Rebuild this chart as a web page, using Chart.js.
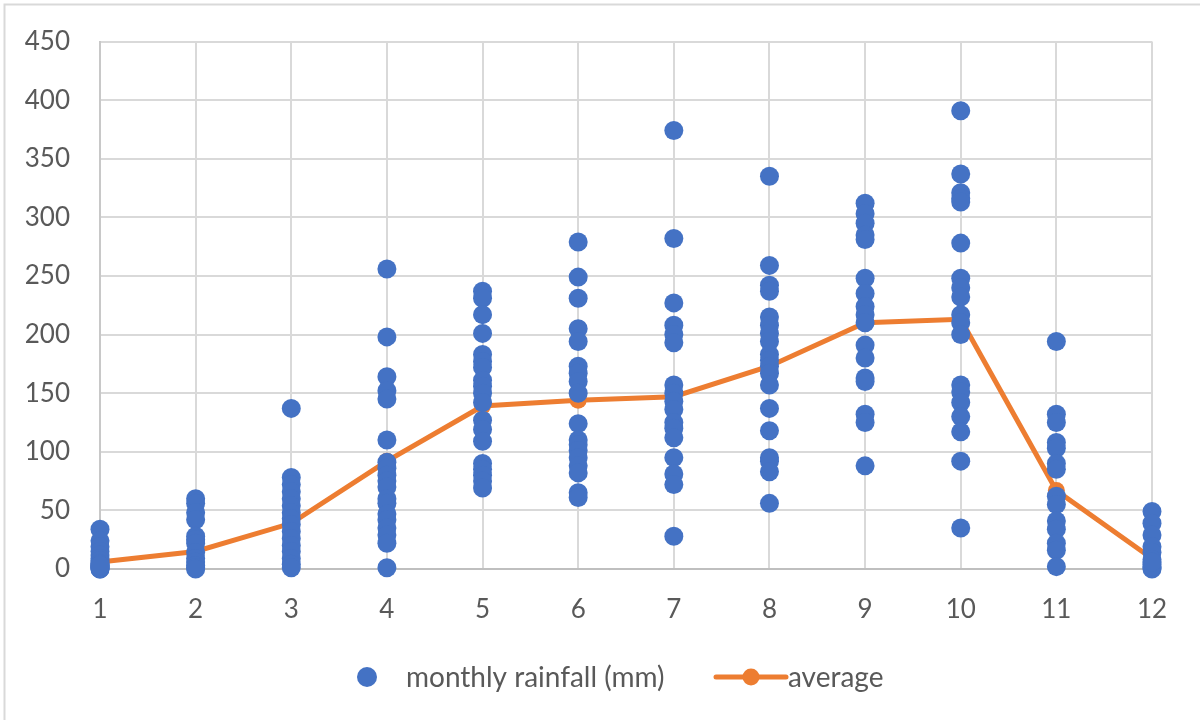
<!DOCTYPE html>
<html>
<head>
<meta charset="utf-8">
<title>Monthly rainfall</title>
<script src="https://cdn.jsdelivr.net/npm/chart.js@4/dist/chart.umd.min.js"></script>
<style>
  html, body { margin: 0; padding: 0; background: #ffffff; }
  #wrap { position: relative; width: 1200px; height: 720px; }
</style>
</head>
<body>
<div id="wrap"><canvas id="chart" width="1200" height="720"></canvas></div>
<script>
// Month numbers on the x axis
const months = [1, 2, 3, 4, 5, 6, 7, 8, 9, 10, 11, 12];

// Recorded monthly rainfall (mm), one value per year, per month
const rainJan = [34, 24, 19, 15, 12, 9, 7, 5, 4, 3, 2, 1, 0, 0, 1, 2, 3];
const rainFeb = [60, 56, 48, 42, 28, 25, 22, 14, 9, 6, 3, 1, 0];
const rainMar = [137, 78, 72, 66, 60, 54, 48, 43, 38, 32, 26, 20, 15, 9, 4, 1];
const rainApr = [256, 198, 164, 152, 145, 110, 91, 86, 80, 75, 70, 60, 56, 47, 42, 35, 29, 22, 1];
const rainMay = [237, 231, 217, 201, 183, 177, 172, 161, 156, 150, 142, 127, 119, 109, 90, 85, 80, 75, 69];
const rainJun = [279, 249, 231, 205, 194, 173, 167, 160, 150, 124, 110, 106, 101, 95, 88, 82, 65, 61];
const rainJul = [374, 282, 227, 208, 200, 193, 157, 150, 143, 136, 125, 120, 112, 95, 81, 72, 28];
const rainAug = [335, 259, 242, 237, 215, 208, 201, 194, 183, 178, 173, 167, 157, 137, 118, 95, 92, 83, 56];
const rainSep = [312, 303, 295, 285, 281, 248, 235, 224, 217, 210, 191, 180, 163, 160, 132, 125, 88];
const rainOct = [391, 337, 321, 316, 313, 278, 248, 240, 232, 217, 210, 200, 157, 151, 142, 130, 117, 92, 35];
const rainNov = [194, 132, 125, 108, 103, 90, 85, 62, 55, 41, 34, 22, 16, 2];
const rainDec = [49, 39, 29, 19, 14, 8, 4, 1, 0, 2, 6];

// Average rainfall per month (mm)
const averages = [6, 15, 39, 92, 139, 144, 147, 173, 210, 213, 67, 9];

// Y axis range and step
const yMin = 0;
const yMax = 450;
const yStep = 50;

const seriesNames = ['monthly rainfall (mm)', 'average'];

const rainByMonth = [rainJan, rainFeb, rainMar, rainApr, rainMay, rainJun,
                     rainJul, rainAug, rainSep, rainOct, rainNov, rainDec];

const rainPoints = [];
months.forEach((m, i) => {
  rainByMonth[i].forEach(v => rainPoints.push({ x: m, y: v }));
});
const avgPoints = months.map((m, i) => ({ x: m, y: averages[i] }));

const BLUE = '#4472C4';
const ORANGE = '#ED7D31';
const GRID = '#d9d9d9';
const TEXT = '#595959';
const FONT = 'Lato, "Open Sans", sans-serif';

// Outer frame of the chart area
const framePlugin = {
  id: 'frame',
  beforeDraw(chart) {
    const ctx = chart.ctx;
    ctx.save();
    ctx.fillStyle = '#ffffff';
    ctx.fillRect(0, 0, chart.width, chart.height);
    ctx.strokeStyle = '#d9d9d9';
    ctx.lineWidth = 2;
    ctx.beginPath();
    ctx.moveTo(4.5, chart.height);
    ctx.lineTo(4.5, 4.5);
    ctx.lineTo(chart.width, 4.5);
    ctx.stroke();
    ctx.restore();
  }
};

// Legend row below the axis: marker + label for each dataset
const legendPlugin = {
  id: 'rowLegend',
  afterDraw(chart) {
    const ctx = chart.ctx;
    const ds = chart.data.datasets;
    const cy = 677;
    ctx.save();
    ctx.font = '28px ' + FONT;
    ctx.fillStyle = TEXT;
    ctx.textBaseline = 'middle';
    ctx.textAlign = 'left';

    // scatter series: single dot
    ctx.beginPath();
    ctx.arc(367, cy, 10, 0, Math.PI * 2);
    ctx.fillStyle = ds[0].backgroundColor;
    ctx.fill();
    ctx.fillStyle = TEXT;
    ctx.fillText(ds[0].label, 406, cy + 1);

    // line series: short line with a dot
    ctx.strokeStyle = ds[1].borderColor;
    ctx.lineWidth = 5;
    ctx.lineCap = 'round';
    ctx.beginPath();
    ctx.moveTo(716, cy);
    ctx.lineTo(786, cy);
    ctx.stroke();
    ctx.beginPath();
    ctx.arc(751, cy, 8.5, 0, Math.PI * 2);
    ctx.fillStyle = ds[1].pointBackgroundColor;
    ctx.fill();
    ctx.fillStyle = TEXT;
    ctx.fillText(ds[1].label, 788, cy + 1);
    ctx.restore();
  }
};

new Chart(document.getElementById('chart'), {
  type: 'scatter',
  data: {
    datasets: [
      {
        label: seriesNames[0],
        data: rainPoints,
        backgroundColor: BLUE,
        borderColor: BLUE,
        borderWidth: 0,
        pointRadius: 9.5,
        pointHoverRadius: 9.5,
        clip: false
      },
      {
        type: 'line',
        label: seriesNames[1],
        data: avgPoints,
        borderColor: ORANGE,
        backgroundColor: ORANGE,
        pointBackgroundColor: ORANGE,
        pointBorderWidth: 0,
        borderWidth: 5,
        pointRadius: 8.5,
        tension: 0,
        fill: false,
        clip: false
      }
    ]
  },
  options: {
    responsive: false,
    animation: false,
    layout: { padding: { left: 0, right: 48, top: 41.5, bottom: 91 } },
    plugins: {
      legend: { display: false },
      tooltip: { enabled: false }
    },
    scales: {
      x: {
        type: 'linear',
        min: 1,
        max: 12,
        afterFit(scale) {
          scale.height = 60;
          scale.paddingLeft = 0;
          scale.paddingRight = 0;
        },
        ticks: {
          stepSize: 1,
          padding: 25,
          color: TEXT,
          font: { family: FONT, size: 26 }
        },
        grid: { color: GRID, lineWidth: 2, drawTicks: false },
        border: { color: '#bfbfbf', width: 2 }
      },
      y: {
        min: yMin,
        max: yMax,
        afterFit(scale) {
          scale.width = 100;
          scale.paddingTop = 0;
          scale.paddingBottom = 0;
        },
        ticks: {
          stepSize: yStep,
          padding: 30,
          color: TEXT,
          font: { family: FONT, size: 26 }
        },
        grid: { color: GRID, lineWidth: 2, drawTicks: false },
        border: { color: '#c8c8c8', width: 2 }
      }
    }
  },
  plugins: [framePlugin, legendPlugin]
});
</script>
</body>
</html>
